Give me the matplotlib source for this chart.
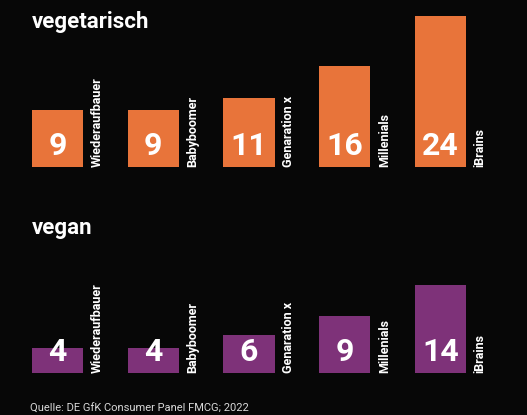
import matplotlib
matplotlib.use("Agg")
import matplotlib.pyplot as plt

categories = ["Wiederaufbauer", "Babyboomer", "Genaration x", "Millenials", "iBrains"]
vegetarisch = [9, 9, 11, 16, 24]
vegan = [4, 4, 6, 9, 14]
titles = ["vegetarisch", "vegan"]
source = "Quelle: DE GfK Consumer Panel FMCG; 2022"

W, H = 527, 415
DPI = 100
bg = "#070707"
orange = "#E8743A"
purple = "#7E3279"

fig = plt.figure(figsize=(W / DPI, H / DPI), dpi=DPI, facecolor=bg)

px_per_unit = 6.3
spacing = 95.75
first_center = 57.5
xlim = (-first_center / spacing, (W - first_center) / spacing)
ymax = 26

def make_axes(bottom_px, values, color):
    h_px = ymax * px_per_unit
    ax = fig.add_axes([0, 1 - bottom_px / H, 1, h_px / H])
    ax.set_facecolor("none")
    ax.set_xlim(*xlim)
    ax.set_ylim(0, ymax)
    ax.axis("off")
    x = list(range(len(values)))
    ax.bar(x, values, width=51 / spacing, color=color, align="center")
    for xi, v, cat in zip(x, values, categories):
        ax.annotate(str(v), (xi, 0), xytext=(0, 12), textcoords="offset pixels",
                    ha="center", va="baseline", color="white",
                    fontsize=23, fontweight="bold", family="Roboto")
        ax.text(xi + 0.415, 0, cat, rotation=90, ha="center", va="bottom",
                color="white", fontsize=9, fontweight="bold", family="Roboto")
    return ax

make_axes(167, vegetarisch, orange)
make_axes(373, vegan, purple)

fig.text(32 / W, 1 - 22 / H, titles[0], color="white", fontsize=16,
         fontweight="bold", family="Roboto", ha="left", va="center")
fig.text(32 / W, 1 - 228 / H, titles[1], color="white", fontsize=16,
         fontweight="bold", family="Roboto", ha="left", va="center")
fig.text(30 / W, 1 - 409 / H, source, color="#d8d8d8", fontsize=8,
         family="Roboto", ha="left", va="center")

fig.savefig("out.png", dpi=DPI, facecolor=bg)
